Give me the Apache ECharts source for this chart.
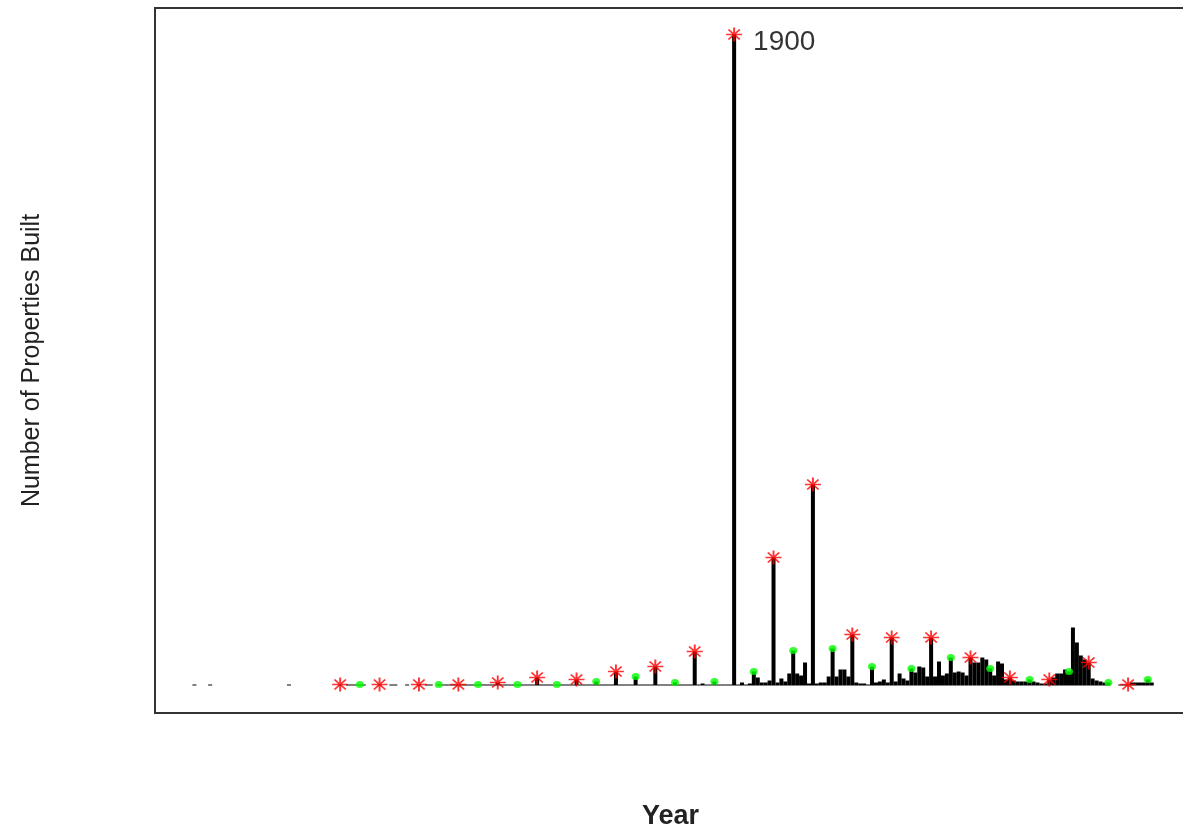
<!DOCTYPE html>
<html>
<head>
<meta charset="utf-8">
<script src="https://cdn.jsdelivr.net/npm/echarts@6/dist/echarts.min.js"></script>
<style>
html,body{margin:0;padding:0;background:#fff;}
#chart{width:1183px;height:827px;}
</style>
</head>
<body>
<div id="chart"></div>
<script>
// Early years (before 1900)
const earlyYears = [1763, 1767, 1787, 1800, 1802, 1803, 1804, 1805, 1806, 1810, 1813, 1814, 1817, 1820, 1822, 1823,
  1825, 1826, 1827, 1828, 1829, 1830, 1831, 1832, 1833, 1834, 1835, 1836, 1837, 1838, 1839,
  1840, 1841, 1842, 1843, 1844, 1845, 1846, 1847, 1848, 1849, 1850, 1851, 1852, 1853, 1854,
  1855, 1856, 1857, 1858, 1859, 1860, 1861, 1862, 1863, 1864, 1865, 1866, 1867, 1868, 1869,
  1870, 1871, 1872, 1873, 1874, 1875, 1876, 1877, 1878, 1879, 1880, 1881, 1882, 1883, 1884,
  1885, 1886, 1887, 1888, 1889, 1890, 1891, 1892, 1893, 1894, 1895, 1896, 1897, 1898, 1899];
const earlyCounts = [1, 1, 1, 1, 1, 1, 1, 1, 1, 1, 1, 1, 1, 1, 1, 1,
  1, 1, 1, 1, 1, 1, 1, 1, 1, 1, 1, 1, 1, 1, 1,
  3, 1, 1, 1, 1, 1, 1, 1, 1, 1, 8, 1, 1, 1, 1,
  1, 1, 1, 1, 1, 6, 1, 1, 1, 1, 4, 1, 1, 1, 1,
  14, 1, 1, 1, 1, 9, 1, 1, 1, 1, 19, 1, 1, 1, 1,
  3, 1, 1, 1, 1, 34, 1, 2, 1, 1, 4, 1, 1, 1, 1];

// 1900 onwards
const modernYears = [1900, 1901, 1902, 1903, 1904, 1905, 1906, 1907, 1908, 1909,
  1910, 1911, 1912, 1913, 1914, 1915, 1916, 1917, 1918, 1919,
  1920, 1921, 1922, 1923, 1924, 1925, 1926, 1927, 1928, 1929,
  1930, 1931, 1932, 1933, 1934, 1935, 1936, 1937, 1938, 1939,
  1940, 1941, 1942, 1943, 1944, 1945, 1946, 1947, 1948, 1949,
  1950, 1951, 1952, 1953, 1954, 1955, 1956, 1957, 1958, 1959,
  1960, 1961, 1962, 1963, 1964, 1965, 1966, 1967, 1968, 1969,
  1970, 1971, 1972, 1973, 1974, 1975, 1976, 1977, 1978, 1979,
  1980, 1981, 1982, 1983, 1984, 1985, 1986, 1987, 1988, 1989,
  1990, 1991, 1992, 1993, 1994, 1995, 1998, 1999,
  2000, 2001, 2002, 2003, 2004, 2005, 2006];
const modernCounts = [651, 1, 3, 1, 2, 14, 8, 3, 3, 5,
  128, 3, 7, 4, 12, 35, 12, 10, 23, 2,
  201, 2, 3, 3, 9, 37, 9, 16, 16, 9,
  51, 3, 2, 2, 1, 19, 3, 4, 6, 3,
  48, 4, 12, 7, 5, 17, 13, 19, 18, 9,
  48, 9, 24, 10, 12, 28, 13, 14, 13, 10,
  28, 23, 23, 28, 26, 17, 10, 24, 22, 6,
  8, 5, 4, 4, 4, 6, 4, 3, 2, 2,
  6, 8, 12, 12, 16, 14, 58, 43, 30, 26,
  23, 7, 5, 4, 3, 3, 1, 1,
  1, 3, 3, 3, 3, 6, 3];

const xLabel = 'Year';
const yLabel = 'Number of Properties Built';

const allYears = earlyYears.concat(modernYears);
const allCounts = earlyCounts.concat(modernCounts);
const pairs = allYears.map((y, i) => [y, allCounts[i]]);
const maxCount = Math.max.apply(null, allCounts);

const starData = pairs.filter(p => p[0] % 10 === 0).map(p => {
  const item = { value: p };
  if (p[1] === maxCount) {
    item.label = {
      show: true, position: 'right', distance: 10, offset: [0, 8],
      formatter: String(p[0]), fontFamily: 'Liberation Sans', fontSize: 28, color: '#000'
    };
  }
  return item;
});
const dotData = pairs.filter(p => p[0] % 10 === 5);

const chart = echarts.init(document.getElementById('chart'));
chart.setOption({
  animation: false,
  backgroundColor: '#fff',
  grid: { left: 155, top: 8, width: 1031, height: 705, outerBoundsMode: 'none', containLabel: false,
    show: true, borderColor: '#333', borderWidth: 2, backgroundColor: 'transparent' },
  xAxis: {
    type: 'value', min: 1753, max: 2014.7,
    axisLine: { show: false }, axisTick: { show: false }, axisLabel: { show: false }, splitLine: { show: false },
    name: xLabel, nameLocation: 'middle', nameGap: 90,
    nameTextStyle: { fontFamily: 'Liberation Sans', fontSize: 27, fontWeight: 'bold', color: '#222' }
  },
  yAxis: {
    type: 'value', min: -27.5, max: 677.5,
    axisLine: { show: false }, axisTick: { show: false }, axisLabel: { show: false }, splitLine: { show: false },
    name: yLabel, nameLocation: 'middle', nameGap: 110,
    nameTextStyle: { fontFamily: 'Liberation Sans', fontSize: 25, color: '#222' }
  },
  series: [
    {
      type: 'bar', data: pairs, barWidth: 4, itemStyle: { color: '#000' }, z: 2
    },
    {
      type: 'scatter', data: dotData, symbol: 'circle', symbolSize: [8, 7],
      itemStyle: { color: '#00ff00' }, z: 3
    },
    {
      type: 'scatter', data: starData,
      symbol: 'path://M8,0L8,16M0,8L16,8M2.3,2.3L13.7,13.7M2.3,13.7L13.7,2.3',
      symbolSize: [16, 14],
      itemStyle: { color: 'rgba(0,0,0,0)', borderColor: '#ff0000', borderWidth: 1.8 }, z: 4
    }
  ]
});
</script>
</body>
</html>
